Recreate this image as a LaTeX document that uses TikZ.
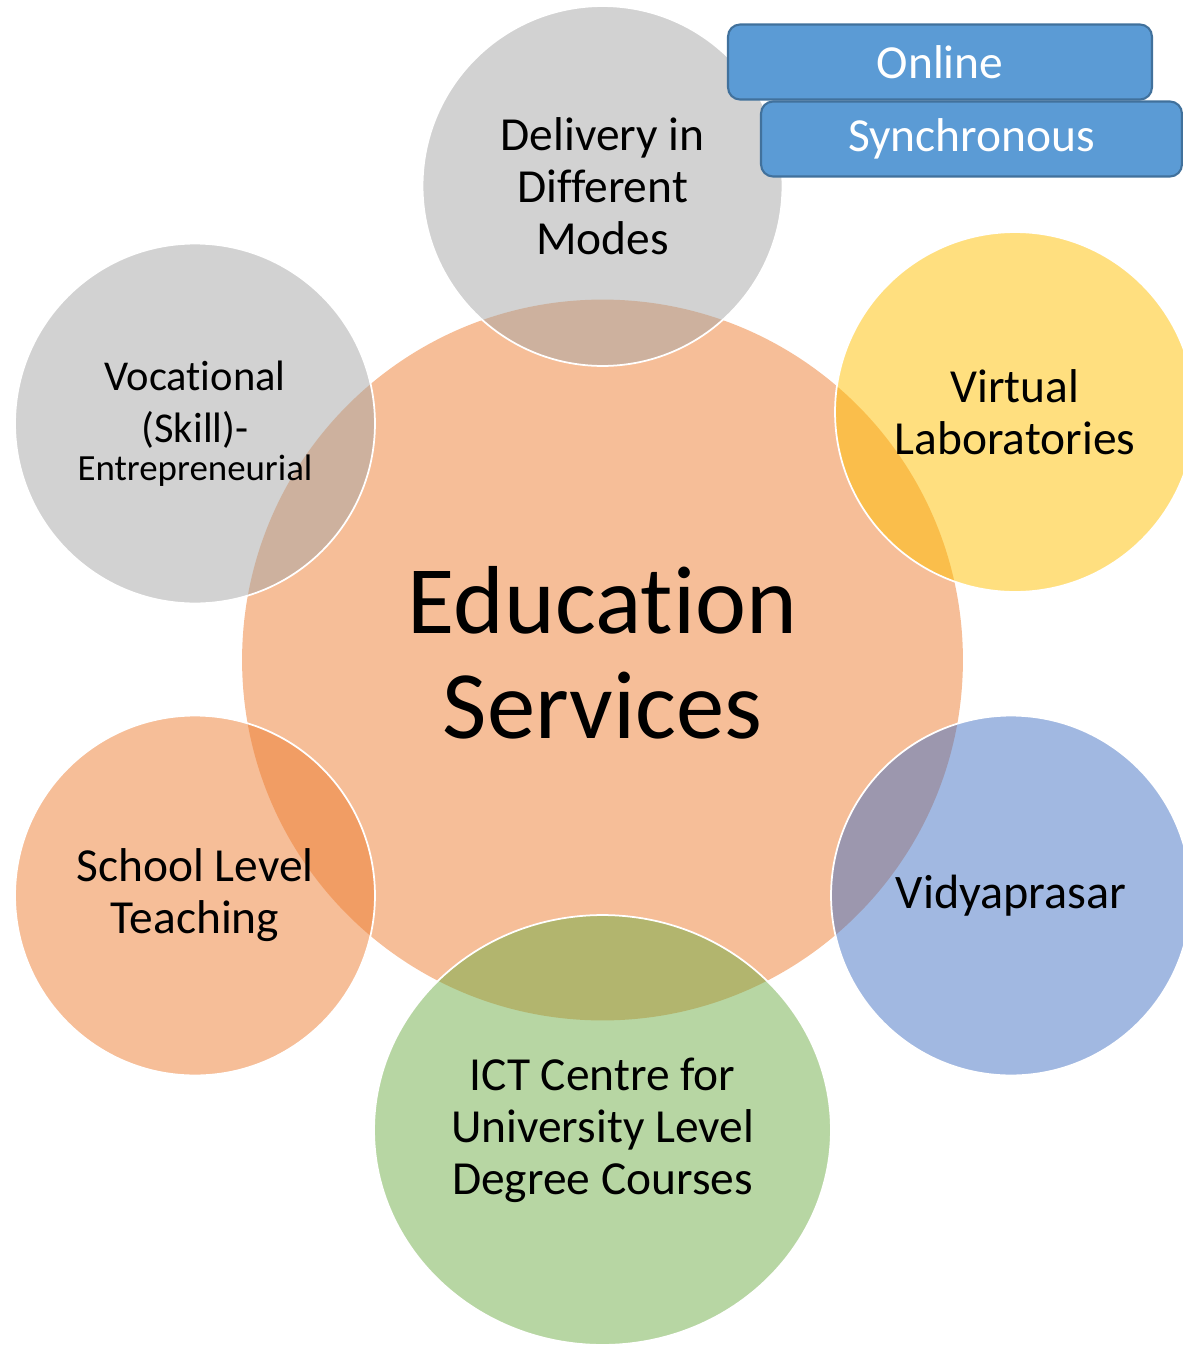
\documentclass[tikz,border=0pt]{standalone}
\usepackage{fontspec}
\setmainfont{Carlito}[Ligatures=CommonOff]
\usetikzlibrary{shapes.geometric}

\definecolor{hubcol}{HTML}{ED7D31}
\definecolor{greycol}{HTML}{A5A5A5}
\definecolor{goldcol}{HTML}{FFC000}
\definecolor{bluecol}{HTML}{4472C4}
\definecolor{greencol}{HTML}{70AD47}
\definecolor{boxfill}{HTML}{5B9BD5}
\definecolor{boxline}{HTML}{41719C}

\tikzset{
    bubble/.style={circle, draw=white, line width=1pt, fill opacity=0.5,
        text opacity=1, minimum size=7.2cm, inner sep=0pt, align=center,
        font=\fontsize{27}{29.6}\selectfont},
    modebox/.style={rectangle, rounded corners=0.24cm, draw=boxline,
        line width=1.2pt, fill=boxfill, text=white, minimum height=1.5cm,
        font=\fontsize{27}{30}\selectfont}
}

\begin{document}
\begin{tikzpicture}[x=0.02cm, y=-0.02cm]
    \useasboundingbox (0,0) rectangle (1183,1346);

    % centre
    \node[circle, fill=hubcol, fill opacity=0.5, text opacity=1,
        minimum size=14.42cm, align=center, text depth=0.3cm,
        font=\fontsize{55}{59.8}\selectfont] (hub) at (602.5,660) {Education\\Services};

    % satellites
    \node[bubble, fill=greycol] (modes) at (602.5,186) {Delivery in\\Different\\Modes};
    \node[bubble, fill=greycol] (skill) at (195,423.5)
        {\fontsize{24.2}{29}\selectfont Vocational\\\fontsize{24.2}{29}\selectfont (Skill)-\\[-8pt]\fontsize{21}{25}\selectfont Entrepreneurial};
    \node[bubble, fill=goldcol] (vlab) at (1015,412) {Virtual\\Laboratories};
    \node[bubble, fill=bluecol, font=\fontsize{27.4}{30}\selectfont] (vidya) at (1011,895.5) {Vidyaprasar};
    \node[bubble, fill=hubcol] (school) at (195,895.5) {School Level\\Teaching};
    \node[bubble, ellipse, fill=greencol, minimum width=9.14cm,
        minimum height=8.6cm] (ict) at (602.5,1130) {ICT Centre for\\University Level\\Degree Courses};

    % modes
    \node[modebox, minimum width=8.48cm] (online) at (940,62) {Online};
    \node[modebox, minimum width=8.42cm] (sync) at (971.5,139) {Synchronous};
\end{tikzpicture}
\end{document}
